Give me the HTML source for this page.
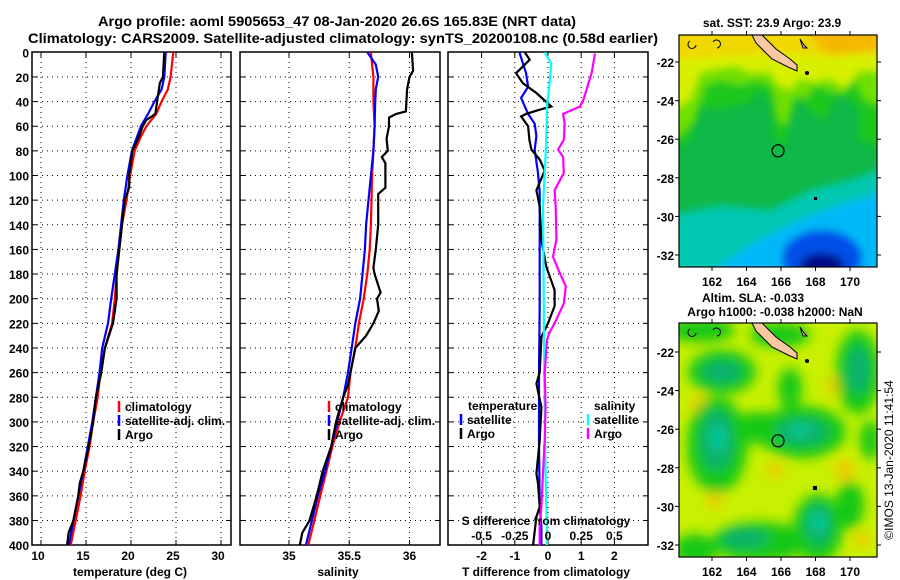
<!DOCTYPE html>
<html><head><meta charset="utf-8">
<style>
html,body{margin:0;padding:0;background:#fff;}
svg{display:block;font-family:"Liberation Sans",Arial,sans-serif;font-weight:bold;}
text{font-size:12px;fill:#000;}
</style></head>
<body>
<svg id="fig" width="900" height="580" viewBox="0 0 900 580" xmlns="http://www.w3.org/2000/svg">
<defs>
<filter id="blur4" x="-20%" y="-20%" width="140%" height="140%"><feGaussianBlur stdDeviation="4"/></filter>
<filter id="blur6" x="-30%" y="-30%" width="160%" height="160%"><feGaussianBlur stdDeviation="6"/></filter>
<clipPath id="clipMap1"><rect x="679" y="35" width="198" height="232"/></clipPath>
<clipPath id="clipMap2"><rect x="679" y="323" width="198" height="234"/></clipPath>
<clipPath id="clipP1"><rect x="32" y="52" width="199" height="493"/></clipPath>
<clipPath id="clipP2"><rect x="240" y="52" width="200" height="493"/></clipPath>
<clipPath id="clipP3"><rect x="448" y="52" width="200" height="493"/></clipPath>
</defs>
<text x="337" y="26" text-anchor="middle" textLength="478" lengthAdjust="spacingAndGlyphs" style="font-size:13.5px">Argo profile: aoml 5905653_47 08-Jan-2020 26.6S 165.83E (NRT data)</text>
<text x="343" y="43" text-anchor="middle" textLength="630" lengthAdjust="spacingAndGlyphs" style="font-size:13.5px">Climatology: CARS2009. Satellite-adjusted climatology: synTS_20200108.nc (0.58d earlier)</text>
<g id="panels"></g>
<g id="maps"></g>
<text transform="translate(893,460) rotate(-90)" text-anchor="middle" style="font-weight:normal;font-size:12px">©IMOS 13-Jan-2020 11:41:54</text>
</svg>
<script>
// ---------- data ----------
const depthTicks = [0,20,40,60,80,100,120,140,160,180,200,220,240,260,280,300,320,340,360,380,400];
const tempTicks = [10,15,20,25,30];
const salTicks = [35,35.5,36];
const salTickLabels = ["35","35.5","36"];
const dTTicks = [-2,-1,0,1,2];
const dSTickLabels = ["-0.5","-0.25","0","0.25","0.5"];
const dSTicks = [-0.5,-0.25,0,0.25,0.5];

const climDepth = [0,20,30,40,50,60,70,80,100,120,140,160,180,200,220,240,260,280,300,320,340,360,380,400];
const tempClim = [24.7,24.4,24.1,23.4,22.8,21.7,21.0,20.4,19.9,19.5,19.0,18.7,18.4,18.2,17.9,17.1,16.6,16.3,15.8,15.4,14.85,14.4,13.85,13.3];
const tempSat  = [23.85,23.7,23.4,22.6,21.9,21.1,20.6,20.1,19.6,19.2,18.9,18.6,18.2,17.8,17.45,16.8,16.5,16.1,15.7,15.2,14.7,14.15,13.6,13.1];
const argoTDepth = [0,20,25,30,40,50,55,60,70,80,100,110,120,140,160,180,200,220,240,260,280,300,320,340,350,360,380,390,400];
const tempArgo = [23.7,23.55,23.2,23.1,22.9,22.7,21.7,21.3,20.8,20.15,19.8,19.8,19.3,19.0,18.7,18.4,18.4,18.0,17.1,16.7,16.1,15.8,15.3,14.7,14.3,14.15,13.6,13.07,12.9];

const salDepth = [0,10,20,30,40,60,80,100,120,140,160,180,200,220,240,260,280,300,320,340,360,380,400];
const salClim = [35.68,35.69,35.70,35.70,35.70,35.71,35.70,35.69,35.685,35.68,35.67,35.65,35.62,35.58,35.55,35.51,35.49,35.42,35.36,35.31,35.26,35.21,35.16];
const salSat  = [35.65,35.72,35.74,35.72,35.715,35.71,35.70,35.68,35.66,35.64,35.63,35.61,35.59,35.55,35.52,35.49,35.45,35.40,35.35,35.30,35.24,35.19,35.14];
const argoSDepth = [0,15,20,30,48,50,53,60,70,80,85,90,100,110,115,140,160,175,180,195,200,210,220,230,240,250,270,280,300,320,340,360,380,390,400];
const salArgo = [36.02,36.03,36.0,35.98,35.97,35.89,35.83,35.83,35.81,35.82,35.77,35.80,35.80,35.80,35.74,35.74,35.72,35.70,35.71,35.76,35.73,35.745,35.70,35.64,35.55,35.53,35.49,35.45,35.39,35.35,35.28,35.23,35.17,35.11,35.09];

const dTSatDepth = [0,17,28,37,50,58,68,79,98,114,152,206,260,315,369,385,400];
const dTSat = [-0.86,-0.66,-0.6,-0.81,-0.6,-0.4,-0.35,-0.4,-0.3,-0.25,-0.25,-0.25,-0.27,-0.27,-0.25,-0.2,-0.2];
const dTArgoDepth = [0,6,17,25,33,44,47,50,52,60,71,79,87,96,112,125,152,174,193,206,220,231,260,269,288,315,342,350,369,377,400];
const dTArgo = [-0.7,-0.55,-0.96,-0.76,-0.35,0.1,-0.3,-0.66,-0.81,-0.6,-0.56,-0.5,-0.25,-0.1,-0.35,-0.25,-0.2,-0.05,0.2,0.2,0.0,-0.2,-0.25,-0.35,-0.2,-0.25,-0.35,-0.3,-0.25,-0.35,-0.45];
const dSSatDepth = [0,9,25,44,71,98,125,179,233,288,342,369,385,400];
const dSSat = [-0.025,0.025,0.013,-0.008,-0.013,-0.025,-0.038,-0.033,-0.03,-0.025,-0.018,-0.013,-0.008,-0.008];
const dSArgoDepth = [1,17,39,44,50,58,71,79,85,98,112,125,152,166,179,190,204,220,228,234,261,288,315,342,369,385,400];
const dSArgo = [0.354,0.328,0.265,0.24,0.114,0.126,0.119,0.076,0.114,0.119,0.05,0.058,0.063,0.038,0.088,0.134,0.119,0.05,0.008,-0.008,-0.025,-0.018,-0.025,-0.038,-0.05,-0.063,-0.063];

const lonTicks = [162,164,166,168,170];
const latTicks = [-22,-24,-26,-28,-30,-32];
const argoLon = 165.83, argoLat = -26.6;

// ---------- axes ----------
const NS = "http://www.w3.org/2000/svg";
const yDepth = d => 52.3 + d*1.232;
const xTemp = t => 41 + (t-10)*9;
const xSal = s => 289 + (s-35)*120.5;
const xDT = t => 548 + t*33.2;
const xDS = s => 548 + s*4*33.2;
const xLon = l => 712 + (l-162)*17.25;
const yLat1 = la => 62 + (-22-la)*19.3;
const yLat2 = la => 352 + (-22-la)*19.3;

function el(tag, attrs, parent){
  const e = document.createElementNS(NS, tag);
  for (const k in attrs) e.setAttribute(k, attrs[k]);
  parent.appendChild(e);
  return e;
}
function txt(parent, x, y, s, anchor, size){
  const t = el('text', {x:x, y:y, 'text-anchor':anchor||'start'}, parent);
  if (size) t.style.fontSize = size+'px';
  t.textContent = s;
  return t;
}
const panels = document.getElementById('panels');

function panel(name, x0, x1, vticks, xf){
  const g = el('g', {}, panels);
  
  
  depthTicks.forEach(d => {
    if (d===0||d===400) return;
    const l = el('line', {x1:x0, x2:x1, y1:yDepth(d), y2:yDepth(d), stroke:'#000', 'stroke-width':1, 'stroke-dasharray':'1,4'}, g);
    
    
    el('line', {x1:x0, x2:x0+5, y1:yDepth(d), y2:yDepth(d), stroke:'#000'}, g);
    el('line', {x1:x1-5, x2:x1, y1:yDepth(d), y2:yDepth(d), stroke:'#000'}, g);
  });
  vticks.forEach(v => {
    const X = xf(v);
    const l = el('line', {x1:X, x2:X, y1:52, y2:545, stroke:'#000', 'stroke-width':1, 'stroke-dasharray':'1,4'}, g);
    
    
    el('line', {x1:X, x2:X, y1:52, y2:57, stroke:'#000'}, g);
    el('line', {x1:X, x2:X, y1:540, y2:545, stroke:'#000'}, g);
  });
  const r = el('rect', {x:x0, y:52, width:x1-x0, height:493, fill:'none', stroke:'#000', 'stroke-width':1.5}, g);
  
  
  return g;
}
function series(g, depths, vals, xf, color, name, clip){
  const pts = depths.map((d,i) => xf(vals[i]).toFixed(1)+','+yDepth(d).toFixed(1)).join(' ');
  const p = el('polyline', {points:pts, fill:'none', stroke:color, 'stroke-width':2.2, 'clip-path':'url(#'+clip+')'}, g);
  
  
}
function legend(g, x, y, color, label, name){
  el('line', {x1:x, x2:x, y1:y-10, y2:y+1, stroke:color, 'stroke-width':2.5}, g);
  const t = txt(g, x+6, y, label);
  
  
}

// Panel 1: temperature
const p1 = panel('temperature-panel', 32, 231, tempTicks, xTemp);
series(p1, climDepth, tempClim, xTemp, '#ff0000', 'temp-climatology-line', 'clipP1');
series(p1, climDepth, tempSat, xTemp, '#0000ff', 'temp-satellite-line', 'clipP1');
series(p1, argoTDepth, tempArgo, xTemp, '#000000', 'temp-argo-line', 'clipP1');
depthTicks.forEach(d => { const t = txt(p1, 29, yDepth(d)+5, String(d), 'end');
  
   });
tempTicks.forEach(v => { const t = txt(p1, xTemp(v)-3, 560, String(v), 'middle');
  
   });
{ const t = txt(p1, 130, 576, 'temperature (deg C)', 'middle');
  
   }
legend(p1, 119, 411, '#ff0000', 'climatology', 'legend-climatology');
legend(p1, 119, 425, '#0000ff', 'satellite-adj. clim.', 'legend-satellite-adj');
legend(p1, 119, 439, '#000000', 'Argo', 'legend-argo');

// Panel 2: salinity
const p2 = panel('salinity-panel', 240, 440, salTicks, xSal);
series(p2, salDepth, salClim, xSal, '#ff0000', 'sal-climatology-line', 'clipP2');
series(p2, salDepth, salSat, xSal, '#0000ff', 'sal-satellite-line', 'clipP2');
series(p2, argoSDepth, salArgo, xSal, '#000000', 'sal-argo-line', 'clipP2');
salTicks.forEach((v,i) => { const t = txt(p2, xSal(v), 560, salTickLabels[i], 'middle');
  
   });
{ const t = txt(p2, 338, 576, 'salinity', 'middle');
  
   }
legend(p2, 329, 411, '#ff0000', 'climatology', 'legend-climatology-2');
legend(p2, 329, 425, '#0000ff', 'satellite-adj. clim.', 'legend-satellite-adj-2');
legend(p2, 329, 439, '#000000', 'Argo', 'legend-argo-2');

// Panel 3: differences
const p3 = panel('difference-panel', 448, 648, dTTicks, xDT);
series(p3, dTSatDepth, dTSat, xDT, '#0000ff', 'dT-satellite-line', 'clipP3');
series(p3, dTArgoDepth, dTArgo, xDT, '#000000', 'dT-argo-line', 'clipP3');
series(p3, dSSatDepth, dSSat, xDS, '#00ffff', 'dS-satellite-line', 'clipP3');
series(p3, dSArgoDepth, dSArgo, xDS, '#ff00ff', 'dS-argo-line', 'clipP3');
dTTicks.forEach(v => { const t = txt(p3, xDT(v), 560, String(v), 'middle');
  
   });
dSTicks.forEach((v,i) => { const t = txt(p3, xDS(v), 540, dSTickLabels[i], 'middle');
  
   });
{ const t = txt(p3, 546, 525, 'S difference from climatology', 'middle');
  
   }
{ const t = txt(p3, 546, 576, 'T difference from climatology', 'middle');
  
   }
{ const t = txt(p3, 468, 410, 'temperature');
  
   }
{ const t = txt(p3, 594, 410, 'salinity');
  
   }
legend(p3, 461, 424, '#0000ff', 'satellite', 'legend-dT-satellite');
legend(p3, 461, 438, '#000000', 'Argo', 'legend-dT-argo');
legend(p3, 588, 424, '#00ffff', 'satellite', 'legend-dS-satellite');
legend(p3, 588, 438, '#ff00ff', 'Argo', 'legend-dS-argo');

// ---------- maps ----------
const maps = document.getElementById('maps');
function mapFrame(name){
  const g = el('g', {}, maps);
  
  
  return g;
}
function mapAxes(g, y0, h, yLat){
  el('rect', {x:679, y:y0, width:198, height:h, fill:'none', stroke:'#000', 'stroke-width':1.2}, g);
  lonTicks.forEach(l => {
    el('line', {x1:xLon(l), x2:xLon(l), y1:y0-4, y2:y0, stroke:'#000'}, g);
    el('line', {x1:xLon(l), x2:xLon(l), y1:y0+h, y2:y0+h+4, stroke:'#000'}, g);
    const t = txt(g, xLon(l), y0+h+19, String(l), 'middle');
    
    
  });
  latTicks.forEach(la => {
    const Y = yLat(la);
    el('line', {x1:675, x2:679, y1:Y, y2:Y, stroke:'#000'}, g);
    el('line', {x1:877, x2:881, y1:Y, y2:Y, stroke:'#000'}, g);
    const t = txt(g, 674, Y+5, String(la), 'end');
    
    
  });
  const c = el('circle', {cx:xLon(argoLon), cy:yLat(argoLat), r:6, fill:'none', stroke:'#000', 'stroke-width':1.2}, g);
  
  
}
function island(g, y0){
  const p = el('path', {d:`M752,${y0} L762,${y0} L776,${y0+14} L790,${y0+24} L797,${y0+30} L797,${y0+36} L788,${y0+32} L772,${y0+24} L756,${y0+8} Z`, fill:'#f9c8a0', stroke:'#000', 'stroke-width':1}, g);
  
  
  el('circle', {cx:807, cy:y0+38, r:2, fill:'#000'}, g);
  el('path', {d:`M800,${y0+4} l4,6 l3,3 l-4,0 z`, fill:'#f9c8a0', stroke:'#000', 'stroke-width':1}, g);
  el('path', {d:`M690,${y0+6} a4,4 0 1,0 6,4 M713,${y0+7} a4,4 0 1,1 4,6`, fill:'none', stroke:'#000', 'stroke-width':1}, g);
}

// Map 1 (SST)
const m1 = mapFrame('sst-map');
{
  const t = txt(m1, 772, 27, 'sat. SST: 23.9 Argo: 23.9', 'middle');
  
  
  const c = el('g', {'clip-path':'url(#clipMap1)'}, m1);
  el('rect', {x:670, y:25, width:220, height:260, fill:'#10b848'}, c);
  const f = el('g', {filter:'url(#blur4)'}, c);
  el('path', {d:'M670,25 L890,25 L890,150 L860,140 L860,110 L850,100 L835,95 L825,120 L815,115 L800,100 L790,105 L785,145 L775,140 L770,100 L760,90 L745,105 L730,105 L725,110 L700,105 L690,140 L670,150 Z', fill:'#1cc81c'}, f);
  el('path', {d:'M670,25 L890,25 L890,110 L865,100 L855,80 L840,95 L830,90 L815,85 L805,100 L795,95 L788,125 L778,120 L772,85 L755,80 L740,85 L720,80 L705,85 L695,120 L680,135 L670,135 Z', fill:'#70e000'}, f);
  el('path', {d:'M670,25 L890,25 L890,72 L860,70 L845,88 L830,78 L815,82 L800,78 L790,90 L778,85 L770,72 L750,72 L735,66 L720,68 L700,72 L690,100 L670,110 Z', fill:'#d8f000'}, f);
  el('path', {d:'M670,25 L890,25 L890,52 L830,56 L780,54 L730,56 L670,60 Z', fill:'#f0d800'}, f);
  el('path', {d:'M800,25 L880,25 L880,50 L830,56 Z', fill:'#f5b800'}, f);
  el('path', {d:'M670,215 L720,205 L770,210 L810,190 L850,180 L890,165 L890,280 L670,280 Z', fill:'#00c8b0'}, f);
  el('path', {d:'M700,280 L750,245 L800,220 L840,205 L890,190 L890,280 Z', fill:'#00b8f8'}, f);
  el('ellipse', {cx:822, cy:258, rx:40, ry:28, fill:'#0050e8'}, f);
  el('ellipse', {cx:822, cy:265, rx:22, ry:12, fill:'#000a8a'}, f);
  island(c, 35);
  el('rect', {x:814, y:197, width:3, height:3, fill:'#000'}, c);
  mapAxes(m1, 35, 232, yLat1);
}
// Map 2 (SLA)
const m2 = mapFrame('sla-map');
{
  const t1 = txt(m2, 753, 302, 'Altim. SLA: -0.033', 'middle');
  
  
  const t2 = txt(m2, 775, 316, 'Argo h1000: -0.038 h2000: NaN', 'middle');
  
  
  const c = el('g', {'clip-path':'url(#clipMap2)'}, m2);
  el('rect', {x:670, y:315, width:220, height:250, fill:'#c8f000'}, c);
  const f = el('g', {filter:'url(#blur6)'}, c);
  [[700,405,9],[835,385,9],[845,470,10],[862,540,8],[715,500,8],[775,470,8]].forEach(o=>el('circle',{cx:o[0],cy:o[1],r:o[2],fill:'#f0c800'},f));
  [[700,330,35,12],[722,372,34,22],[717,445,30,48],[760,428,28,16],[802,432,44,26],[790,388,12,20],[858,372,22,42],[760,542,48,20],[818,528,25,34],[695,550,22,16],[780,335,30,12],[850,505,14,24],[870,440,10,20]].forEach(o=>el('ellipse',{cx:o[0],cy:o[1],rx:o[2],ry:o[3],fill:'#18c818'},f));
  [[722,372,20,11],[717,440,16,30],[802,432,26,13],[858,370,11,24],[818,525,13,20],[745,538,24,9]].forEach(o=>el('ellipse',{cx:o[0],cy:o[1],rx:o[2],ry:o[3],fill:'#10b070'},f));
  [[718,438,6,12],[818,522,6,9],[800,430,9,5]].forEach(o=>el('ellipse',{cx:o[0],cy:o[1],rx:o[2],ry:o[3],fill:'#00d0a8'},f));
  island(c, 323);
  el('rect', {x:813, y:486, width:4, height:4, fill:'#000'}, c);
  mapAxes(m2, 323, 234, yLat2);
}
</script>
</body></html>
